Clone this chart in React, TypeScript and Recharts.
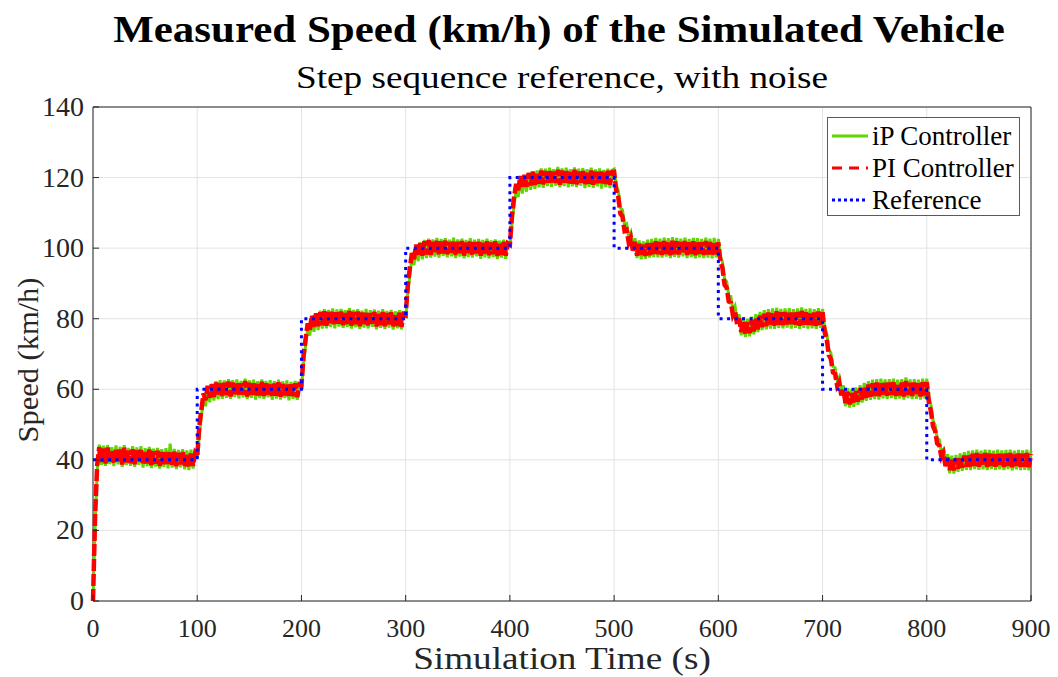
import { LineChart, Line, XAxis, YAxis, CartesianGrid, ReferenceArea } from 'recharts';

const FONT = "'Liberation Serif', 'Times New Roman', serif";
const INK = '#262626';
const GREEN = '#5fd700';
const RED = '#ff0000';
const BLUE = '#0000ff';

// sampling step of the measured signals (s)
const DT = 2;

const xTicks = [0, 100, 200, 300, 400, 500, 600, 700, 800, 900];
const yTicks = [0, 20, 40, 60, 80, 100, 120, 140];

// step sequence reference (value holds until next breakpoint)
const refTime = [0, 100, 200, 300, 400, 500, 600, 700, 800, 900];
const refSpeed = [40, 60, 80, 100, 120, 100, 80, 60, 40, 40];

// iP controller, measured speed every 2 s
const ipSpeed = [
  // 0-98
  0, 21, 37.0, 44.3, 38.6, 44.0, 38.3, 44.2, 38.8, 43.6,
  38.2, 44.1, 38.7, 43.7, 38.0, 44.2, 38.5, 43.4, 38.3, 43.9,
  38.0, 43.5, 38.6, 43.9, 37.8, 43.3, 38.2, 43.7, 37.7, 43.2,
  38.1, 43.4, 37.5, 43.0, 38.0, 43.3, 37.6, 44.6, 37.8, 43.1,
  37.4, 42.8, 37.9, 43.0, 37.3, 42.7, 37.1, 42.9, 37.5, 42.6,
  // 100-198
  40.2, 47.0, 52.4, 57.4, 55.2, 60.6, 56.3, 61.6, 56.8, 62.3,
  57.2, 62.6, 57.3, 62.5, 57.6, 62.9, 57.3, 62.6, 57.8, 62.8,
  57.4, 62.4, 57.7, 63.0, 57.2, 62.5, 57.6, 62.7, 57.1, 62.3,
  57.5, 62.8, 57.3, 62.4, 57.7, 62.6, 57.0, 62.3, 57.4, 62.7,
  57.1, 62.2, 57.5, 62.5, 56.9, 62.1, 57.3, 62.4, 57.0, 62.0,
  // 200-298
  60.2, 67.0, 72.4, 77.3, 75.2, 80.6, 76.3, 81.6, 76.8, 82.3,
  77.2, 82.7, 77.3, 82.5, 77.6, 82.9, 77.3, 82.6, 77.8, 82.8,
  77.4, 82.4, 77.7, 83.0, 77.2, 82.5, 77.6, 82.7, 77.1, 82.3,
  77.5, 82.8, 77.3, 82.4, 77.7, 82.6, 77.0, 82.3, 77.4, 82.7,
  77.1, 82.2, 77.5, 82.5, 76.9, 82.1, 77.3, 82.4, 77.0, 82.0,
  // 300-398
  80.2, 87.0, 92.4, 97.3, 95.2, 100.6, 96.3, 101.6, 96.8, 102.3,
  97.2, 102.7, 97.3, 102.5, 97.6, 102.9, 97.3, 102.6, 97.8, 102.8,
  97.4, 102.4, 97.7, 103.0, 97.2, 102.5, 97.6, 102.7, 97.1, 102.3,
  97.5, 102.8, 97.3, 102.4, 97.7, 102.6, 97.0, 102.3, 97.4, 102.7,
  97.1, 102.2, 97.5, 102.5, 96.9, 102.1, 97.3, 102.4, 97.0, 102.0,
  // 400-498
  100.2, 106.8, 112.0, 116.6, 114.5, 119.6, 115.5, 120.5, 116.0, 121.4,
  116.5, 121.8, 116.8, 122.0, 117.2, 122.6, 117.1, 122.5, 117.6, 122.8,
  117.4, 122.4, 117.7, 123.0, 117.2, 122.6, 117.6, 122.8, 117.2, 122.4,
  117.5, 122.9, 117.3, 122.5, 117.7, 122.7, 117.0, 122.4, 117.4, 122.8,
  117.1, 122.3, 117.5, 122.6, 116.9, 122.2, 117.3, 122.5, 117.0, 122.1,
  // 500-598
  122.4, 117.8, 116.3, 111.4, 110.9, 106.5, 106.9, 103.0, 104.4, 100.3,
  102.8, 97.2, 102.2, 96.8, 101.9, 97.0, 102.4, 97.3, 102.6, 97.5,
  102.9, 97.4, 102.7, 97.3, 103.0, 97.6, 102.8, 97.2, 103.1, 97.5,
  102.9, 97.3, 102.7, 97.7, 103.0, 97.2, 102.6, 97.5, 102.9, 97.1,
  102.8, 97.4, 102.6, 97.2, 103.0, 97.3, 102.7, 97.1, 102.9, 97.4,
  // 600-698
  102.6, 97.7, 96.0, 91.2, 90.5, 86.5, 86.3, 82.4, 83.6, 79.4,
  81.2, 75.3, 80.4, 74.8, 80.0, 75.0, 80.6, 75.6, 81.3, 76.2,
  81.9, 76.8, 82.4, 77.0, 82.7, 77.2, 82.9, 77.1, 83.1, 77.4,
  82.8, 77.3, 82.9, 77.5, 83.0, 77.2, 82.7, 77.4, 82.9, 77.1,
  83.2, 77.4, 82.8, 77.2, 82.9, 77.3, 82.7, 77.1, 83.0, 77.4,
  // 700-798
  82.8, 77.7, 75.9, 71.3, 70.3, 66.4, 66.1, 62.4, 63.5, 59.3,
  61.1, 55.2, 60.3, 54.8, 59.9, 55.0, 60.5, 55.6, 61.2, 56.2,
  61.8, 56.7, 62.3, 57.0, 62.7, 57.2, 62.9, 57.1, 63.0, 57.4,
  62.8, 57.3, 62.9, 57.5, 63.0, 57.2, 62.7, 57.4, 62.9, 57.1,
  63.4, 57.5, 62.8, 57.2, 62.9, 57.3, 62.7, 57.1, 63.0, 57.4,
  // 800-900
  63.0, 57.8, 55.5, 51.1, 49.9, 46.1, 45.7, 42.2, 43.0, 39.2,
  41.6, 36.2, 41.2, 36.1, 41.4, 36.6, 41.8, 36.9, 42.2, 37.2,
  42.5, 37.1, 42.7, 37.4, 42.9, 37.2, 42.6, 37.3, 42.9, 37.1,
  42.8, 37.4, 42.6, 37.2, 42.9, 37.3, 42.7, 37.1, 42.8, 37.4,
  42.9, 37.0, 42.6, 37.3, 42.8, 37.1, 42.7, 37.2, 42.9, 37.0,
  42.6,
];

// PI controller, measured speed every 2 s
const piSpeed = [
  // 0-98
  0, 24, 38.5, 43.6, 39.4, 43.2, 39.0, 43.5, 39.6, 42.8,
  38.9, 43.3, 39.5, 42.9, 38.7, 43.4, 39.3, 42.6, 39.1, 43.0,
  38.8, 42.7, 39.4, 43.1, 38.6, 42.5, 39.0, 42.9, 38.5, 42.4,
  38.9, 42.6, 38.3, 42.2, 38.8, 42.5, 38.4, 42.1, 38.6, 42.3,
  38.2, 42.0, 38.7, 42.2, 38.1, 41.9, 37.9, 42.1, 38.3, 41.8,
  // 100-198
  40.8, 49.5, 54.2, 58.8, 56.9, 61.0, 57.6, 61.4, 57.8, 61.9,
  58.3, 62.0, 58.1, 61.8, 58.4, 62.2, 58.0, 61.9, 58.6, 62.1,
  58.2, 61.7, 58.5, 62.3, 58.0, 61.8, 58.4, 62.0, 57.9, 61.6,
  58.3, 62.1, 58.1, 61.7, 58.5, 61.9, 57.8, 61.6, 58.2, 62.0,
  57.9, 61.5, 58.3, 61.8, 57.7, 61.4, 58.1, 61.7, 57.8, 61.3,
  // 200-298
  61.0, 69.6, 74.3, 78.7, 76.8, 81.0, 77.7, 81.5, 77.9, 81.8,
  78.2, 82.1, 78.0, 81.9, 78.5, 82.3, 78.1, 81.8, 78.6, 82.0,
  78.2, 81.6, 78.4, 82.2, 78.0, 81.9, 78.5, 82.0, 77.9, 81.7,
  78.3, 82.0, 78.1, 81.6, 78.6, 81.9, 77.8, 81.5, 78.2, 81.9,
  77.9, 81.6, 78.4, 81.8, 77.8, 81.4, 78.0, 81.7, 77.7, 81.3,
  // 300-398
  81.0, 89.4, 94.4, 98.6, 96.9, 101.0, 97.8, 101.4, 97.9, 101.9,
  98.2, 102.2, 98.1, 101.8, 98.6, 102.3, 98.0, 101.9, 98.5, 102.1,
  98.3, 101.7, 98.4, 102.1, 98.1, 101.8, 98.6, 102.0, 97.9, 101.6,
  98.2, 102.1, 98.0, 101.7, 98.5, 101.8, 97.9, 101.5, 98.3, 101.9,
  98.0, 101.6, 98.3, 101.9, 97.8, 101.5, 98.1, 101.8, 97.9, 101.4,
  // 400-498
  101.0, 109.3, 114.5, 118.2, 116.4, 120.4, 117.2, 120.8, 117.4, 121.3,
  117.8, 121.6, 117.9, 121.5, 118.3, 122.0, 118.1, 121.8, 118.6, 122.1,
  118.2, 121.7, 118.5, 122.2, 118.0, 122.0, 118.6, 122.1, 118.0, 121.8,
  118.3, 122.2, 118.1, 121.7, 118.6, 122.0, 117.9, 121.6, 118.3, 122.0,
  118.0, 121.7, 118.4, 121.9, 117.9, 121.6, 118.2, 121.9, 118.0, 121.5,
  // 500-598
  121.6, 116.4, 114.5, 109.8, 109.0, 104.9, 105.2, 101.6, 103.0, 99.3,
  101.8, 97.9, 101.3, 97.6, 101.0, 97.8, 101.4, 98.0, 101.6, 98.2,
  101.9, 98.3, 101.7, 98.1, 102.0, 98.4, 101.8, 98.0, 102.1, 98.3,
  101.9, 98.2, 101.7, 98.5, 102.0, 98.1, 101.6, 98.4, 101.9, 98.0,
  101.8, 98.3, 101.6, 98.1, 102.0, 98.2, 101.7, 98.0, 101.9, 98.3,
  // 600-698
  101.6, 96.2, 94.3, 89.6, 88.8, 84.9, 84.6, 81.0, 82.2, 78.4,
  80.1, 76.2, 79.4, 75.6, 79.0, 75.9, 79.6, 76.4, 80.3, 77.0,
  80.9, 77.6, 81.4, 77.9, 81.7, 78.1, 81.9, 78.0, 82.1, 78.3,
  81.8, 78.2, 81.9, 78.4, 82.0, 78.1, 81.7, 78.3, 81.9, 78.0,
  82.2, 78.3, 81.8, 78.1, 81.9, 78.2, 81.7, 78.0, 82.0, 78.3,
  // 700-798
  81.8, 76.3, 74.2, 69.7, 68.6, 64.8, 64.4, 61.0, 62.1, 58.3,
  60.0, 56.1, 59.3, 55.7, 58.9, 55.9, 59.5, 56.5, 60.2, 57.1,
  60.8, 57.6, 61.3, 57.9, 61.7, 58.1, 61.9, 58.0, 62.0, 58.3,
  61.8, 58.2, 61.9, 58.4, 62.0, 58.1, 61.7, 58.3, 61.9, 58.0,
  62.3, 58.4, 61.8, 58.1, 61.9, 58.2, 61.7, 58.0, 62.0, 58.3,
  // 800-900
  62.0, 56.4, 53.8, 49.5, 48.2, 44.6, 44.1, 40.8, 41.9, 38.2,
  40.6, 37.1, 40.2, 37.0, 40.4, 37.5, 40.8, 37.8, 41.2, 38.1,
  41.5, 38.0, 41.7, 38.3, 41.9, 38.1, 41.6, 38.2, 41.9, 38.0,
  41.8, 38.3, 41.6, 38.1, 41.9, 38.2, 41.7, 38.0, 41.8, 38.3,
  41.9, 37.9, 41.6, 38.2, 41.8, 38.0, 41.7, 38.1, 41.9, 37.9,
  41.6,
];

const rows = ipSpeed.map((v, i) => ({ t: i * DT, ip: v, pi: piSpeed[i] }));
const refRows = refTime.map((t, i) => ({ t, ref: refSpeed[i] }));

const legendItems = [
  { name: 'iP Controller', color: GREEN, dash: undefined },
  { name: 'PI Controller', color: RED, dash: '10 7' },
  { name: 'Reference', color: BLUE, dash: '3 3' },
];

const renderXTick = (props: any) => {
  const { x, y, payload } = props;
  return (
    <g>
      <line x1={x} x2={x} y1={y} y2={y - 6} stroke={INK} />
      <text x={x} y={y + 36} textAnchor="middle" fill={INK} fontFamily={FONT} fontSize={26}>
        {payload.value}
      </text>
    </g>
  );
};

const renderYTick = (props: any) => {
  const { x, y, payload } = props;
  return (
    <g>
      <line x1={x} x2={x + 6} y1={y} y2={y} stroke={INK} />
      <text x={x - 9} y={y + 9} textAnchor="end" fill={INK} fontFamily={FONT} fontSize={28}>
        {payload.value}
      </text>
    </g>
  );
};

export default function App() {
  return (
    <div style={{ position: 'absolute', left: 0, top: 0, width: 1058, height: 677, background: '#fff', fontFamily: FONT }}>
      <div style={{ position: 'absolute', left: 90, width: 938, top: 8, textAlign: 'center', fontSize: 38, fontWeight: 'bold', lineHeight: '42px', color: '#000', transform: 'scaleX(1.13)' }}>
        Measured Speed (km/h) of the Simulated Vehicle
      </div>
      <div style={{ position: 'absolute', left: 93, width: 938, top: 60, textAlign: 'center', fontSize: 31, lineHeight: '36px', color: '#000', transform: 'scaleX(1.2)' }}>
        Step sequence reference, with noise
      </div>

      <LineChart width={1058} height={677} data={rows} margin={{ top: 107, right: 27, bottom: 0, left: 0 }}>
        <CartesianGrid stroke="#e3e3e3" strokeWidth={1} />
        <XAxis
          dataKey="t"
          type="number"
          domain={[0, 900]}
          ticks={xTicks}
          height={76}
          tickSize={0}
          tickMargin={0}
          axisLine={false}
          tickLine={false}
          tick={renderXTick}
          interval={0}
        />
        <YAxis
          type="number"
          domain={[0, 140]}
          ticks={yTicks}
          width={93}
          tickSize={0}
          tickMargin={0}
          axisLine={false}
          tickLine={false}
          tick={renderYTick}
          interval={0}
        />
        <Line dataKey="ip" stroke={GREEN} strokeWidth={3} dot={false} isAnimationActive={false} />
        <Line dataKey="pi" stroke={RED} strokeWidth={4.5} strokeDasharray="12 3" dot={false} isAnimationActive={false} />
        <Line
          data={refRows}
          dataKey="ref"
          type="stepAfter"
          stroke={BLUE}
          strokeWidth={3}
          strokeDasharray="3 4.5"
          dot={false}
          isAnimationActive={false}
        />
        <ReferenceArea x1={0} x2={900} y1={0} y2={140} fill="none" stroke={INK} strokeWidth={1} />
      </LineChart>

      <div style={{ position: 'absolute', left: 362, width: 400, top: 641, textAlign: 'center', fontSize: 31, lineHeight: '36px', color: INK, transform: 'scaleX(1.2)' }}>
        Simulation Time (s)
      </div>
      <div
        style={{
          position: 'absolute',
          left: 28 - 150,
          top: 360 - 18,
          width: 300,
          height: 36,
          textAlign: 'center',
          fontSize: 29,
          lineHeight: '36px',
          color: INK,
          transform: 'rotate(-90deg) scaleX(1.05)',
        }}
      >
        Speed (km/h)
      </div>

      <div style={{ position: 'absolute', left: 827, top: 117, width: 191, height: 97, border: '1px solid #5a5a5a', background: '#fff' }}>
        {legendItems.map((item, i) => (
          <div key={item.name} style={{ position: 'absolute', left: 2, top: 2 + i * 32, height: 32, display: 'flex', alignItems: 'center' }}>
            <svg width={40} height={32}>
              <line x1={2} x2={38} y1={16} y2={16} stroke={item.color} strokeWidth={3} strokeDasharray={item.dash} />
            </svg>
            <span style={{ fontSize: 27, lineHeight: '32px', color: '#000', marginLeft: 2 }}>{item.name}</span>
          </div>
        ))}
      </div>
    </div>
  );
}
